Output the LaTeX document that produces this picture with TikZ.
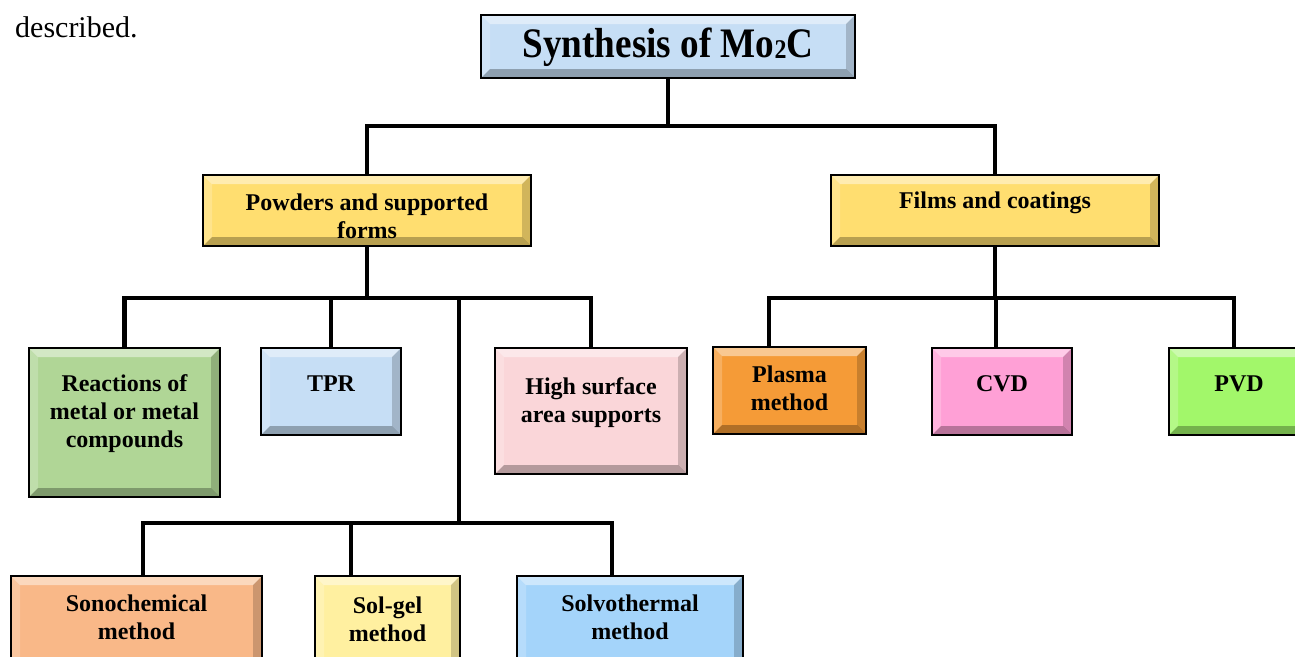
\documentclass[tikz,border=0pt]{standalone}
\usepackage{fontspec}
\setmainfont{Liberation Serif}
\usepackage{graphicx}
\usetikzlibrary{positioning,calc}

\definecolor{titleblue}{RGB}{198,222,245}
\definecolor{formyellow}{RGB}{255,222,112}
\definecolor{reactgreen}{RGB}{176,214,150}
\definecolor{tprblue}{RGB}{198,222,245}
\definecolor{surfpink}{RGB}{250,214,217}
\definecolor{plasmaorange}{RGB}{245,155,55}
\definecolor{cvdpink}{RGB}{255,160,214}
\definecolor{pvdgreen}{RGB}{162,247,106}
\definecolor{sonopeach}{RGB}{249,184,136}
\definecolor{solgelyellow}{RGB}{255,240,160}
\definecolor{solvoblue}{RGB}{164,212,250}

\tikzset{
  link/.style={line width=4.5pt, black},
  box/.style={draw=black, line width=2.2pt, fill=#1, inner sep=0pt,
    path picture={
      \fill[white, opacity=.45] (path picture bounding box.north west) -- (path picture bounding box.north east)
        -- ([shift={(-9pt,-9pt)}]path picture bounding box.north east) -- ([shift={(9pt,-9pt)}]path picture bounding box.north west) -- cycle;
      \fill[white, opacity=.2] (path picture bounding box.north west) -- ([shift={(9pt,-9pt)}]path picture bounding box.north west)
        -- ([shift={(9pt,9pt)}]path picture bounding box.south west) -- (path picture bounding box.south west) -- cycle;
      \fill[black, opacity=.18] (path picture bounding box.north east) -- ([shift={(-9pt,-9pt)}]path picture bounding box.north east)
        -- ([shift={(-9pt,9pt)}]path picture bounding box.south east) -- (path picture bounding box.south east) -- cycle;
      \fill[black, opacity=.28] (path picture bounding box.south west) -- ([shift={(9pt,9pt)}]path picture bounding box.south west)
        -- ([shift={(-9pt,9pt)}]path picture bounding box.south east) -- (path picture bounding box.south east) -- cycle;
    }},
  lbl/.style={font=\fontsize{24}{28}\selectfont\bfseries, align=center, inner sep=0pt}
}

\begin{document}
\begin{tikzpicture}[x=1pt, y=-1pt]
    \useasboundingbox (0,0) rectangle (1295,656);

    % Text before the figure
    \node[font=\fontsize{30}{36}\selectfont, anchor=base west, inner sep=0pt] (prevtext) at (15,37) {described.};

    % Title
    \node[box=titleblue, minimum width=374pt, minimum height=63pt] (synth) at (668,46.5) {};
    \node[font=\fontsize{42}{50}\selectfont\bfseries, inner sep=0pt] (synthtext) at ([yshift=-33pt]synth.north)
        {\scalebox{0.885}[1]{Synthesis of Mo\raisebox{-1pt}{\fontsize{27}{30}\selectfont 2}C}};

    % Two forms
    \node[box=formyellow, minimum width=328pt, minimum height=71pt] (powders) at (367,210.5) {};
    \node[lbl] (powderstext) at ([yshift=-42pt]powders.north) {Powders and supported\\forms};
    \node[box=formyellow, minimum width=328pt, minimum height=71pt] (films) at (995,210.5) {};
    \node[lbl] (filmstext) at ([yshift=-29pt]films.north) {Films and coatings};

    % Powder routes
    \node[box=reactgreen, minimum width=191pt, minimum height=149pt] (reactions) at (124.5,422.5) {};
    \node[lbl] (reactionstext) at ([yshift=-67pt]reactions.north) {Reactions of\\metal or metal\\compounds};
    \node[box=tprblue, minimum width=140pt, minimum height=87pt] (tpr) at (331,391.5) {};
    \node[lbl] (tprtext) at ([yshift=-37pt]tpr.north) {TPR};
    \node[box=surfpink, minimum width=192pt, minimum height=126pt] (highsurf) at (591,411) {};
    \node[lbl] (highsurftext) at ([yshift=-56pt]highsurf.north) {High surface\\area supports};

    % Film routes
    \node[box=plasmaorange, minimum width=153pt, minimum height=87pt] (plasma) at (789.5,390.5) {};
    \node[lbl] (plasmatext) at ([yshift=-42pt]plasma.north) {Plasma\\method};
    \node[box=cvdpink, minimum width=140pt, minimum height=87pt] (cvd) at (1002,391.5) {};
    \node[lbl] (cvdtext) at ([yshift=-37pt]cvd.north) {CVD};
    \node[box=pvdgreen, minimum width=140pt, minimum height=87pt] (pvd) at (1239,391.5) {};
    \node[lbl] (pvdtext) at ([yshift=-37pt]pvd.north) {PVD};

    % Wet chemical routes
    \node[box=sonopeach, minimum width=251pt, minimum height=100pt] (sono) at (136.5,626) {};
    \node[lbl] (sonotext) at ([yshift=-42pt]sono.north) {Sonochemical\\method};
    \node[box=solgelyellow, minimum width=145pt, minimum height=100pt] (solgel) at (387.5,626) {};
    \node[lbl] (solgeltext) at ([yshift=-44pt]solgel.north) {Sol-gel\\method};
    \node[box=solvoblue, minimum width=226pt, minimum height=100pt] (solvo) at (630,626) {};
    \node[lbl] (solvotext) at ([yshift=-42pt]solvo.north) {Solvothermal\\method};

    % Connectors
    \coordinate (wetjoin) at (459,523);
    \foreach \n in {powders,films}
        \draw[link] (synth.south) -- ++(0,47) -| (\n.north);
    \foreach \n in {reactions,tpr,highsurf}
        \draw[link] (powders.south) -- ++(0,51) -| (\n.north);
    \draw[link] (powders.south) -- ++(0,51) -| (wetjoin);
    \foreach \n/\dx in {plasma/-20.5,cvd/-6,pvd/-5}
        \draw[link] (films.south) -- ++(0,51) -| ([xshift=\dx pt]\n.north);
    \foreach \n/\dx in {sono/6.5,solgel/-36.5,solvo/-18}
        \draw[link] (wetjoin) -| ([xshift=\dx pt]\n.north);
\end{tikzpicture}
\end{document}
